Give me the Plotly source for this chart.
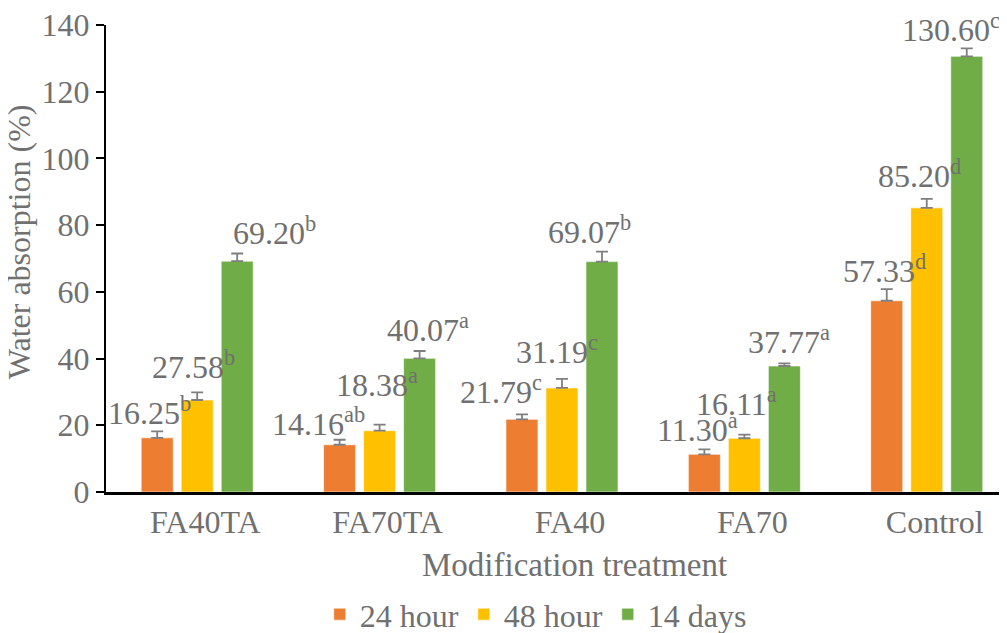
import plotly.graph_objects as go

categories = ["FA40TA", "FA70TA", "FA40", "FA70", "Control"]
series_names = ["24 hour", "48 hour", "14 days"]
values_24h = [16.25, 14.16, 21.79, 11.30, 57.33]
values_48h = [27.58, 18.38, 31.19, 16.11, 85.20]
values_14d = [69.20, 40.07, 69.07, 37.77, 130.60]
err_24h = [1.9, 1.5, 1.5, 1.5, 3.5]
err_48h = [2.3, 1.8, 2.7, 1.1, 2.7]
err_14d = [2.3, 2.2, 3.0, 0.8, 2.4]
letters_24h = ["b", "ab", "c", "a", "d"]
letters_48h = ["b", "a", "c", "a", "d"]
letters_14d = ["b", "a", "b", "a", "c"]
y_ticks = [0, 20, 40, 60, 80, 100, 120, 140]

colors = ["#ED7D31", "#FFC000", "#70AD47"]
# label pixel offsets relative to the top of each error bar (x: px from bar centre, y: px upward)
label_dx = [[-8, -21, -21, -7, -2], [-4, -3, -5, -8, -7], [37, 8, -12, 5, -16]]
label_dy = [[20, 18, 24, 21, 20], [27, 42, 29, 33, 25], [23, 23, 22, 23, 20]]
bar_offset_px = [-40, 0, 40]

FONT = "Liberation Serif"
GREY = "#707070"

all_vals = [values_24h, values_48h, values_14d]
all_errs = [err_24h, err_48h, err_14d]
all_letters = [letters_24h, letters_48h, letters_14d]

fig = go.Figure()
for name, vals, errs, col in zip(series_names, all_vals, all_errs, colors):
    fig.add_trace(go.Bar(
        x=categories, y=vals, name=name,
        marker=dict(color=col, line=dict(color="rgba(255,255,255,0.6)", width=1)),
        error_y=dict(type="data", array=errs, arrayminus=[0] * len(errs), symmetric=False,
                     color="#7f7f7f", thickness=1.8, width=6),
    ))

annotations = []
for s in range(3):
    for i, cat in enumerate(categories):
        v = all_vals[s][i]
        e = all_errs[s][i]
        annotations.append(dict(
            x=i, y=v + e, xref="x", yref="y",
            text=f"{v:.2f}<sup>{all_letters[s][i]}</sup>",
            showarrow=False, xanchor="center", yanchor="middle",
            xshift=bar_offset_px[s] + label_dx[s][i], yshift=label_dy[s][i],
            font=dict(family=FONT, size=32, color=GREY),
        ))

annotations.append(dict(
    text="Modification treatment", xref="paper", yref="paper",
    x=0.52, y=-0.157, xanchor="center", yanchor="middle", showarrow=False,
    font=dict(family=FONT, size=33, color=GREY)))
annotations.append(dict(
    text="Water absorption (%)", xref="paper", yref="paper",
    x=-0.0965, y=0.535, xanchor="center", yanchor="middle", showarrow=False,
    textangle=-90, font=dict(family=FONT, size=32, color=GREY)))

fig.update_layout(
    width=999, height=625,
    margin=dict(l=98, r=0, t=17, b=141, autoexpand=False),
    paper_bgcolor="white", plot_bgcolor="white",
    barmode="group", bargap=0.342, bargroupgap=0.2,
    font=dict(family=FONT, size=32, color=GREY),
    showlegend=True,
    legend=dict(orientation="h", x=0.477, y=-0.262, xanchor="center", yanchor="middle",
                font=dict(family=FONT, size=32, color=GREY), bgcolor="rgba(0,0,0,0)"),
    annotations=annotations,
)
fig.update_xaxes(
    range=[-0.5, 4.44], showline=True, linecolor="black", linewidth=3, automargin=False,
    ticks="", showgrid=False, zeroline=False, ticklabelshift=8,
    tickfont=dict(family=FONT, size=32, color=GREY),
)
fig.update_yaxes(
    range=[0, 140], tickvals=y_ticks, showline=True, linecolor="black", linewidth=2,
    ticks="outside", ticklen=8, tickwidth=2, tickcolor="black", automargin=False,
    showgrid=False, zeroline=False, ticklabeloverflow="allow",
    tickfont=dict(family=FONT, size=32, color=GREY),
)

fig.write_html("out.html")
